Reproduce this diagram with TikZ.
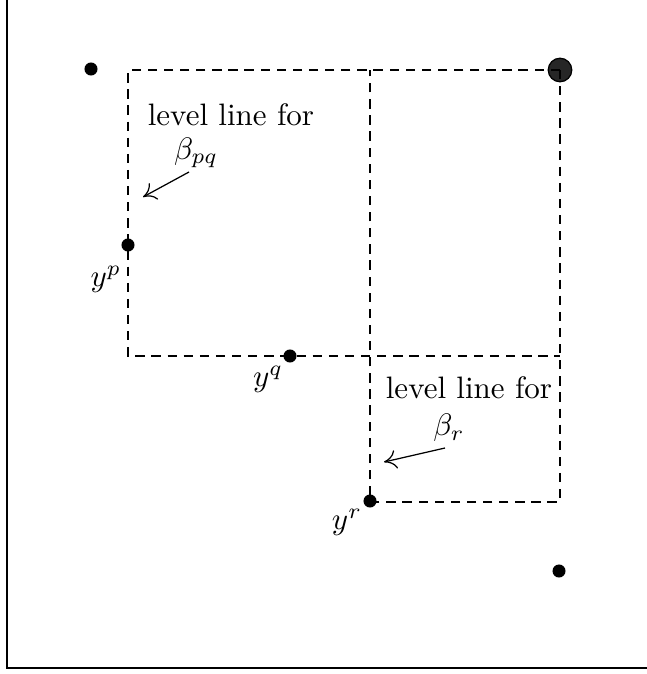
\documentclass[tikz,border=0pt]{standalone}
\usetikzlibrary{arrows.meta, positioning}
\tikzset{
  every picture/.style={line width=0.4pt},
  dot/.style={circle, fill=black, inner sep=0pt, minimum size=4.2pt},
  bigdot/.style={circle, draw=black, fill=black!85, inner sep=0pt, minimum size=7.6pt},
  levelline/.style={dash pattern=on 3pt off 2.2pt, line width=0.4pt},
  pointer/.style={-{To[length=4pt, width=6pt]}, line width=0.4pt},
  note/.style={font=\normalsize, inner sep=1pt},
}

\begin{document}
\begin{tikzpicture}[x=0.3226pt, y=-0.3226pt]
  \useasboundingbox (0,0) rectangle (647,674);
  % frame
  \draw[line width=0.7pt] (7,0) -- (7,668) -- (647,668);
  % level lines
  \node[bigdot] (top) at (560,70) {};
  \coordinate (a) at (128,70);
  \coordinate (b) at (128,356);
  \coordinate (c) at (560,356);
  \coordinate (m) at (370,70);
  \coordinate (e) at (560,502);
  \draw[levelline] (top.center) -- (a) -- (b) -- (c);
  \draw[levelline] (top.center) -- (e) -- (370,502) -- (m);
  % points
  \node[dot] (p0) at (91,69) {};
  \node[dot] (yp) at (128,245) {};
  \node[dot] (yq) at (290,356) {};
  \node[dot] (yr) at (370,501) {};
  \node[dot] (p5) at (559,571) {};
  \node[note] (lp) at (106,279) {$y^p$};
  \node[note] (lq) at (268,379) {$y^q$};
  \node[note] (lr) at (347,522) {$y^r$};
  % labels
  \node[note] (tpq) at (231,115) {level line for};
  \node[note] (bpq) at (196,153) {$\beta_{pq}$};
  \coordinate (spq) at (189,172);
  \coordinate (apq) at (143,197);
  \draw[pointer] (spq) -- (apq);
  \node[note] (tr) at (469,388) {level line for};
  \node[note] (br) at (449,428) {$\beta_r$};
  \coordinate (sr) at (445,448);
  \coordinate (ar) at (384,462);
  \draw[pointer] (sr) -- (ar);
\end{tikzpicture}
\end{document}
